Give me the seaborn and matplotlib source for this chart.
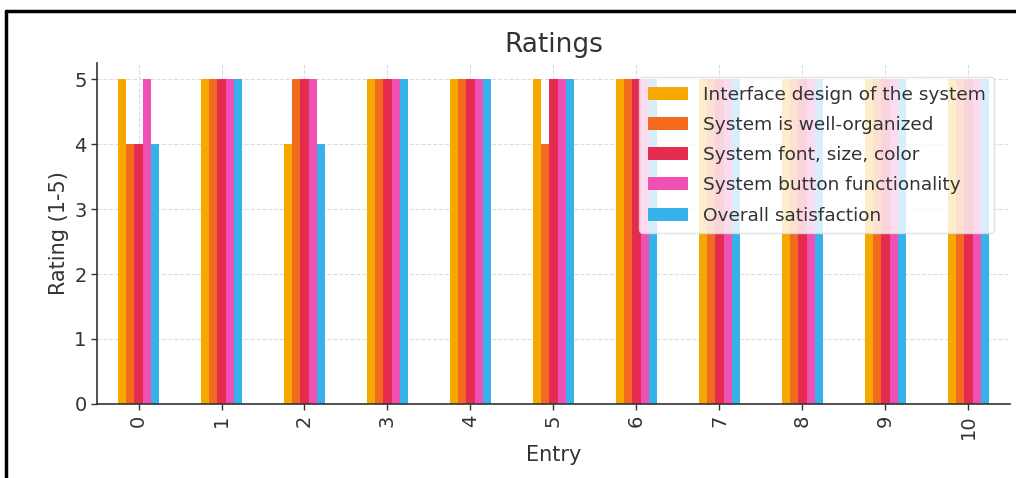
import numpy as np
import pandas as pd
import seaborn as sns
import matplotlib
matplotlib.use("Agg")
import matplotlib.pyplot as plt
from matplotlib.lines import Line2D

entries = list(range(11))
series_names = [
    "Interface design of the system",
    "System is well-organized",
    "System font, size, color",
    "System button functionality",
    "Overall satisfaction",
]
interface = [5, 5, 4, 5, 5, 5, 5, 5, 5, 5, 5]
organized = [4, 5, 5, 5, 5, 4, 5, 5, 5, 5, 5]
font_size_color = [4, 5, 5, 5, 5, 5, 5, 5, 5, 5, 5]
button = [5, 5, 5, 5, 5, 5, 5, 5, 5, 5, 5]
overall = [4, 5, 4, 5, 5, 5, 5, 5, 5, 5, 5]
colors = ["#F5A800", "#F26A1E", "#E52B50", "#EE50B4", "#36B2EA"]

df = pd.DataFrame({
    "Entry": entries,
    series_names[0]: interface,
    series_names[1]: organized,
    series_names[2]: font_size_color,
    series_names[3]: button,
    series_names[4]: overall,
})
long = df.melt(id_vars="Entry", var_name="Question", value_name="Rating")

sns.set_theme(style="whitegrid")
plt.rcParams["font.family"] = ["DejaVu Sans"]

fig = plt.figure(figsize=(10.16, 4.78), dpi=100)
ax = fig.add_axes([0.0955, 0.155, 0.8985, 0.713])

sns.barplot(data=long, x="Entry", y="Rating", hue="Question",
            hue_order=series_names, palette=colors, width=0.5, gap=0,
            saturation=1, errorbar=None, ax=ax, edgecolor="none", linewidth=0)

ax.set_xlim(-0.5, 10.5)
ax.set_ylim(0, 5.25)
ax.set_yticks([0, 1, 2, 3, 4, 5])
ax.grid(True, color="#dddddd", linestyle="--", linewidth=0.8)
ax.set_axisbelow(True)
for s in ["top", "right"]:
    ax.spines[s].set_visible(False)
for s in ["left", "bottom"]:
    ax.spines[s].set_color("#333333")
    ax.spines[s].set_linewidth(1.2)
ax.tick_params(axis="both", which="both", direction="out", length=4,
               width=1, color="#333333", labelsize=14, labelcolor="#333333",
               left=True, bottom=True)
ax.tick_params(axis="x", labelrotation=90)
ax.set_title("Ratings", fontsize=19, color="#333333", pad=8)
ax.set_xlabel("Entry", fontsize=15, color="#333333")
ax.set_ylabel("Rating (1-5)", fontsize=15, color="#333333")

leg = ax.legend(loc="upper right", fontsize=13.3, framealpha=0.8,
                edgecolor="#dddddd", fancybox=True, borderpad=0.45,
                handlelength=2.2, labelspacing=0.66,
                bbox_to_anchor=(0.993, 0.985))
for t in leg.get_texts():
    t.set_color("#333333")

# screenshot-style border
fig.add_artist(Line2D([0.006, 1.0], [0.977, 0.977], transform=fig.transFigure,
                      color="black", linewidth=2.5))
fig.add_artist(Line2D([0.006, 0.006], [0.0, 0.977], transform=fig.transFigure,
                      color="black", linewidth=2.5))

fig.savefig("out.png", dpi=100, facecolor="white")
